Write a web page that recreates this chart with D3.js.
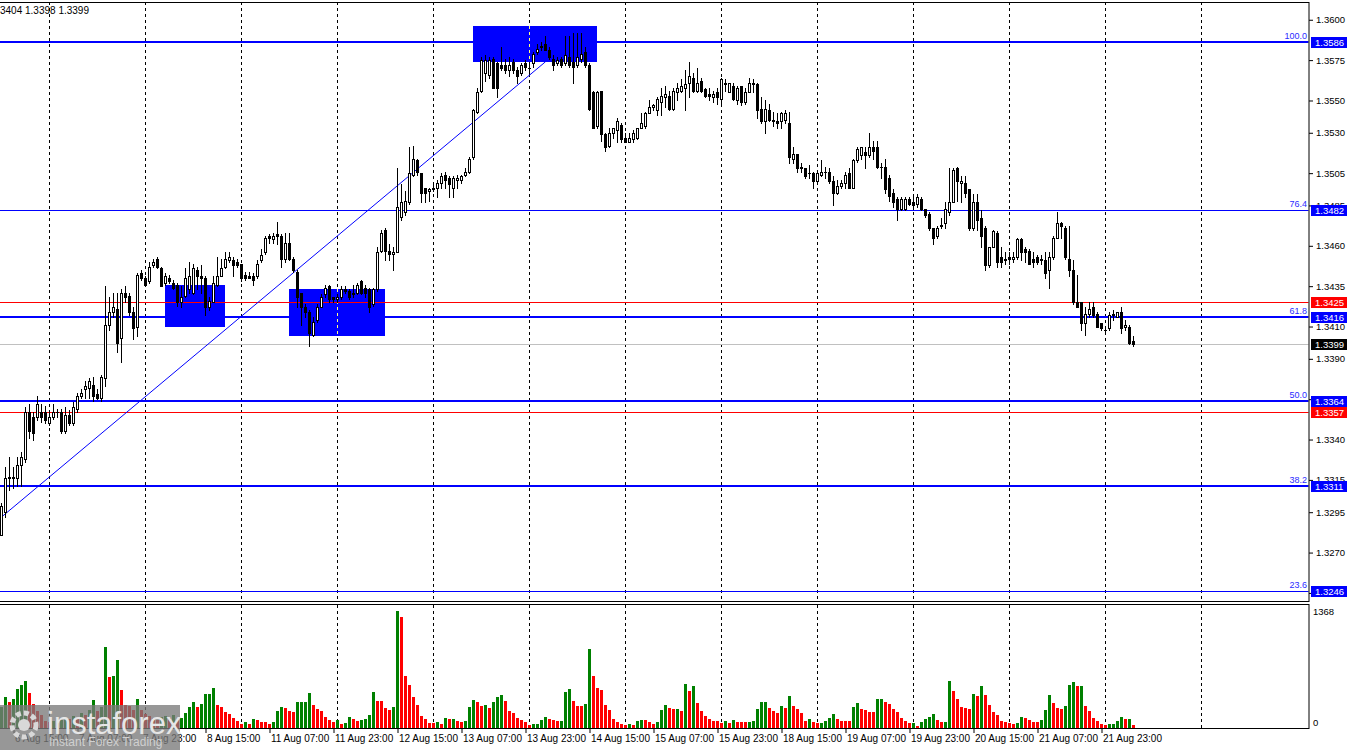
<!DOCTYPE html>
<html><head><meta charset="utf-8">
<script src="https://cdn.jsdelivr.net/npm/d3@7"></script>
<style>
html,body{margin:0;padding:0;background:#fff;overflow:hidden}
svg{display:block;font-family:"Liberation Sans",Arial,sans-serif}
</style></head><body>
<script>
// ---------------- DATA ----------------
const days = ["6 Aug","7 Aug","8 Aug","11 Aug","12 Aug","13 Aug","14 Aug","15 Aug","18 Aug","19 Aug","20 Aug","21 Aug","22 Aug","25 Aug"];
const firstHour = 12;
const xTickLabels = ["6 Aug 15:00","7 Aug 07:00","7 Aug 23:00","8 Aug 15:00","11 Aug 07:00","11 Aug 23:00","12 Aug 15:00","13 Aug 07:00","13 Aug 23:00","14 Aug 15:00","15 Aug 07:00","15 Aug 23:00","18 Aug 15:00","19 Aug 07:00","19 Aug 23:00","20 Aug 15:00","21 Aug 07:00","21 Aug 23:00"];
const priceTicks = [1.3600,1.3575,1.3550,1.3530,1.3505,1.3485,1.3460,1.3435,1.3410,1.3390,1.3365,1.3340,1.3315,1.3295,1.3270,1.3245];
const headerText = "3404 1.3398 1.3399";

const open = [
1.3281,1.3295,1.3316,1.3317,1.3316,1.3324,1.3328,1.3357,1.3354,1.3354,
1.3357,1.3357,1.3350,1.3354,1.3357,1.3357,1.3345,1.3355,1.3350,1.3359,
1.3367,1.3371,1.3372,1.3374,1.3368,1.3366,1.3378,1.3411,1.3419,1.3421,
1.3403,1.3431,1.3429,1.3419,1.3410,1.3443,1.3440,1.3438,1.3448,1.3452,
1.3446,1.3437,1.3440,1.3437,1.3436,1.3425,1.3429,1.3433,1.3431,1.3445,
1.3441,1.3440,1.3422,1.3425,1.3436,1.3441,1.3447,1.3451,1.3451,1.3450,
1.3449,1.3442,1.3441,1.3441,1.3441,1.3451,1.3456,1.3466,1.3464,1.3467,
1.3466,1.3452,1.3462,1.3452,1.3444,1.3431,1.3422,1.3419,1.3405,1.3414,
1.3422,1.3430,1.3435,1.3428,1.3427,1.3428,1.3433,1.3432,1.3430,1.3431,
1.3438,1.3434,1.3433,1.3424,1.3433,1.3457,1.3470,1.3457,1.3455,1.3456,
1.3478,1.3481,1.3487,1.3504,1.3513,1.3505,1.3496,1.3494,1.3495,1.3496,
1.3499,1.3504,1.3502,1.3496,1.3501,1.3501,1.3504,1.3506,1.3515,1.3543,
1.3556,1.3567,1.3566,1.3576,1.3573,1.3572,1.3572,1.3569,1.3574,1.3569,
1.3567,1.3573,1.3570,1.3573,1.3580,1.3584,1.3585,1.3581,1.3576,1.3573,
1.3576,1.3573,1.3577,1.3574,1.3572,1.3576,1.3580,1.3572,1.3555,1.3534,
1.3556,1.3529,1.3522,1.3530,1.3532,1.3535,1.3527,1.3524,1.3526,1.3527,
1.3533,1.3534,1.3542,1.3546,1.3544,1.3549,1.3552,1.3553,1.3545,1.3555,
1.3556,1.3558,1.3561,1.3564,1.3556,1.3562,1.3557,1.3554,1.3552,1.3555,
1.3551,1.3561,1.3555,1.3559,1.3550,1.3559,1.3549,1.3555,1.3561,1.3560,
1.3545,1.3537,1.3544,1.3538,1.3537,1.3537,1.3538,1.3536,1.3514,1.3517,
1.3509,1.3508,1.3505,1.3505,1.3500,1.3504,1.3506,1.3506,1.3500,1.3493,
1.3497,1.3499,1.3505,1.3496,1.3513,1.3516,1.3518,1.3516,1.3521,1.3521,
1.3509,1.3509,1.3502,1.3493,1.3489,1.3483,1.3483,1.3489,1.3487,1.3486,
1.3489,1.3483,1.3480,1.3471,1.3466,1.3472,1.3474,1.3481,1.3487,1.3508,
1.3499,1.3499,1.3495,1.3471,1.3487,1.3477,1.3471,1.3448,1.3459,1.3468,
1.3453,1.3452,1.3453,1.3452,1.3453,1.3464,1.3458,1.3457,1.3452,1.3453,
1.3452,1.3451,1.3445,1.3453,1.3465,1.3474,1.3471,1.3452,1.3445,1.3425,
1.3425,1.3412,1.3418,1.3422,1.3418,1.3412,1.3408,1.3409,1.3417,1.3416,
1.3419,1.3410,1.3410,1.3401];
const high = [
1.3301,1.3323,1.3329,1.3323,1.3329,1.3332,1.3360,1.3362,1.3357,1.3367,
1.3362,1.3361,1.3357,1.3362,1.3359,1.3359,1.3360,1.3358,1.3363,1.3369,
1.3371,1.3376,1.3378,1.3379,1.3371,1.3380,1.3435,1.3428,1.3431,1.3431,
1.3433,1.3435,1.3431,1.3422,1.3443,1.3445,1.3441,1.3450,1.3452,1.3453,
1.3447,1.3443,1.3442,1.3439,1.3437,1.3435,1.3446,1.3450,1.3449,1.3447,
1.3448,1.3441,1.3428,1.3441,1.3453,1.3452,1.3456,1.3456,1.3453,1.3452,
1.3449,1.3444,1.3444,1.3443,1.3451,1.3458,1.3466,1.3467,1.3468,1.3475,
1.3467,1.3468,1.3468,1.3453,1.3445,1.3431,1.3424,1.3420,1.3416,1.3424,
1.3430,1.3436,1.3436,1.3428,1.3430,1.3435,1.3435,1.3433,1.3436,1.3437,
1.3439,1.3436,1.3434,1.3434,1.3459,1.3470,1.3471,1.3461,1.3459,1.3508,
1.3498,1.3494,1.3521,1.3522,1.3514,1.3505,1.3496,1.3496,1.3498,1.3501,
1.3505,1.3506,1.3503,1.3503,1.3504,1.3504,1.3508,1.3515,1.3545,1.3558,
1.3577,1.3578,1.3577,1.3577,1.3574,1.3583,1.3576,1.3577,1.3576,1.3571,
1.3573,1.3575,1.3573,1.3580,1.3585,1.3586,1.3590,1.3583,1.3578,1.3577,
1.3577,1.3590,1.3590,1.3592,1.3592,1.3592,1.3583,1.3573,1.3556,1.3556,
1.3556,1.3530,1.3533,1.3533,1.3539,1.3536,1.3530,1.3530,1.3532,1.3533,
1.3542,1.3543,1.3550,1.3548,1.3552,1.3558,1.3559,1.3556,1.3558,1.3561,
1.3563,1.3569,1.3574,1.3567,1.3570,1.3564,1.3558,1.3558,1.3556,1.3558,
1.3564,1.3563,1.3561,1.3561,1.3559,1.3559,1.3558,1.3564,1.3563,1.3561,
1.3552,1.3550,1.3548,1.3543,1.3542,1.3543,1.3544,1.3543,1.3521,1.3517,
1.3511,1.3508,1.3510,1.3506,1.3507,1.3513,1.3509,1.3508,1.3503,1.3501,
1.3501,1.3506,1.3508,1.3514,1.3521,1.3521,1.3521,1.3530,1.3525,1.3525,
1.3511,1.3514,1.3504,1.3495,1.3490,1.3490,1.3490,1.3490,1.3491,1.3492,
1.3490,1.3483,1.3481,1.3471,1.3472,1.3477,1.3487,1.3508,1.3508,1.3509,
1.3503,1.3503,1.3495,1.3492,1.3492,1.3482,1.3472,1.3459,1.3470,1.3469,
1.3459,1.3456,1.3456,1.3456,1.3465,1.3465,1.3459,1.3458,1.3456,1.3454,
1.3454,1.3456,1.3456,1.3466,1.3481,1.3475,1.3472,1.3472,1.3451,1.3442,
1.3425,1.3422,1.3425,1.3425,1.3419,1.3412,1.3410,1.3419,1.3420,1.3419,
1.3422,1.3414,1.3411,1.3404];
const low = [
1.3281,1.3292,1.3309,1.3310,1.3311,1.3311,1.3326,1.3341,1.3340,1.3352,
1.3351,1.3350,1.3349,1.3353,1.3354,1.3344,1.3344,1.3349,1.3349,1.3357,
1.3366,1.3366,1.3366,1.3364,1.3365,1.3364,1.3373,1.3408,1.3416,1.3394,
1.3388,1.3425,1.3417,1.3402,1.3404,1.3439,1.3435,1.3437,1.3447,1.3446,
1.3435,1.3436,1.3437,1.3433,1.3423,1.3422,1.3428,1.3431,1.3430,1.3433,
1.3431,1.3417,1.3420,1.3425,1.3435,1.3441,1.3446,1.3450,1.3441,1.3447,
1.3438,1.3439,1.3440,1.3436,1.3440,1.3450,1.3455,1.3462,1.3462,1.3461,
1.3447,1.3450,1.3451,1.3444,1.3422,1.3411,1.3416,1.3398,1.3404,1.3413,
1.3422,1.3428,1.3425,1.3425,1.3425,1.3427,1.3431,1.3427,1.3428,1.3430,
1.3430,1.3428,1.3419,1.3423,1.3432,1.3456,1.3451,1.3451,1.3445,1.3456,
1.3476,1.3479,1.3486,1.3503,1.3504,1.3487,1.3487,1.3488,1.3494,1.3490,
1.3496,1.3496,1.3490,1.3490,1.3496,1.3499,1.3503,1.3505,1.3514,1.3542,
1.3555,1.3562,1.3564,1.3558,1.3552,1.3569,1.3567,1.3565,1.3567,1.3561,
1.3566,1.3569,1.3567,1.3571,1.3579,1.3581,1.3581,1.3576,1.3569,1.3572,
1.3571,1.3572,1.3571,1.3561,1.3571,1.3574,1.3571,1.3544,1.3533,1.3533,
1.3525,1.3519,1.3521,1.3527,1.3524,1.3524,1.3524,1.3524,1.3524,1.3526,
1.3533,1.3533,1.3542,1.3544,1.3541,1.3541,1.3546,1.3544,1.3544,1.3550,
1.3555,1.3544,1.3552,1.3555,1.3555,1.3555,1.3552,1.3550,1.3549,1.3548,
1.3547,1.3556,1.3555,1.3550,1.3548,1.3547,1.3548,1.3555,1.3555,1.3539,
1.3536,1.3530,1.3537,1.3534,1.3533,1.3533,1.3536,1.3511,1.3511,1.3506,
1.3506,1.3502,1.3502,1.3496,1.3499,1.3503,1.3502,1.3499,1.3485,1.3492,
1.3496,1.3496,1.3496,1.3496,1.3512,1.3514,1.3508,1.3515,1.3514,1.3508,
1.3502,1.3493,1.3488,1.3484,1.3476,1.3482,1.3482,1.3485,1.3483,1.3484,
1.3482,1.3478,1.3470,1.3461,1.3465,1.3471,1.3471,1.3479,1.3487,1.3488,
1.3487,1.3490,1.3470,1.3470,1.3470,1.3459,1.3445,1.3447,1.3459,1.3447,
1.3447,1.3449,1.3449,1.3450,1.3452,1.3451,1.3450,1.3449,1.3447,1.3449,
1.3449,1.3440,1.3434,1.3452,1.3465,1.3465,1.3452,1.3441,1.3424,1.3422,
1.3408,1.3405,1.3416,1.3416,1.3410,1.3408,1.3406,1.3408,1.3414,1.3416,
1.3406,1.3408,1.3399,1.3398];
const close = [
1.3299,1.3316,1.3317,1.3316,1.3324,1.3329,1.3357,1.3345,1.3344,1.3362,
1.3354,1.3352,1.3354,1.3357,1.3357,1.3345,1.3355,1.3350,1.3360,1.3367,
1.3369,1.3373,1.3376,1.3367,1.3366,1.3379,1.3411,1.3419,1.3422,1.3400,
1.3431,1.3428,1.3419,1.3409,1.3442,1.3440,1.3436,1.3447,1.3450,1.3447,
1.3435,1.3441,1.3438,1.3434,1.3425,1.3428,1.3440,1.3441,1.3446,1.3441,
1.3440,1.3422,1.3426,1.3437,1.3441,1.3446,1.3452,1.3453,1.3448,1.3448,
1.3440,1.3440,1.3440,1.3439,1.3449,1.3454,1.3465,1.3465,1.3466,1.3466,
1.3452,1.3462,1.3452,1.3445,1.3428,1.3422,1.3419,1.3406,1.3413,1.3422,
1.3428,1.3434,1.3427,1.3427,1.3428,1.3433,1.3432,1.3428,1.3431,1.3436,
1.3431,1.3431,1.3422,1.3433,1.3456,1.3468,1.3457,1.3455,1.3456,1.3484,
1.3487,1.3488,1.3505,1.3514,1.3506,1.3493,1.3493,1.3495,1.3496,1.3499,
1.3503,1.3501,1.3498,1.3502,1.3502,1.3503,1.3506,1.3514,1.3544,1.3555,
1.3575,1.3575,1.3575,1.3558,1.3558,1.3570,1.3569,1.3572,1.3569,1.3565,
1.3572,1.3571,1.3570,1.3579,1.3582,1.3583,1.3581,1.3577,1.3572,1.3575,
1.3572,1.3578,1.3572,1.3571,1.3577,1.3579,1.3572,1.3545,1.3533,1.3555,
1.3529,1.3521,1.3530,1.3533,1.3537,1.3526,1.3524,1.3527,1.3530,1.3533,
1.3536,1.3542,1.3546,1.3547,1.3551,1.3553,1.3554,1.3545,1.3556,1.3558,
1.3559,1.3560,1.3565,1.3556,1.3561,1.3556,1.3553,1.3553,1.3554,1.3552,
1.3563,1.3560,1.3561,1.3551,1.3558,1.3549,1.3555,1.3561,1.3560,1.3544,
1.3537,1.3545,1.3538,1.3537,1.3536,1.3542,1.3542,1.3515,1.3517,1.3508,
1.3508,1.3503,1.3505,1.3500,1.3505,1.3506,1.3506,1.3500,1.3493,1.3497,
1.3499,1.3504,1.3496,1.3513,1.3520,1.3521,1.3516,1.3521,1.3519,1.3509,
1.3509,1.3495,1.3491,1.3487,1.3483,1.3489,1.3489,1.3486,1.3485,1.3490,
1.3483,1.3479,1.3471,1.3465,1.3471,1.3473,1.3483,1.3487,1.3507,1.3500,
1.3500,1.3493,1.3471,1.3487,1.3476,1.3466,1.3448,1.3459,1.3469,1.3450,
1.3450,1.3451,1.3452,1.3453,1.3464,1.3456,1.3456,1.3449,1.3450,1.3450,
1.3451,1.3443,1.3453,1.3465,1.3474,1.3472,1.3453,1.3445,1.3425,1.3422,
1.3412,1.3418,1.3421,1.3417,1.3410,1.3409,1.3408,1.3417,1.3418,1.3419,
1.3409,1.3411,1.3400,1.3399];
const volume = [
246,366,308,339,456,503,550,413,281,199,
152,82,70,82,58,94,117,105,140,129,
175,152,211,328,199,246,948,597,608,796,
445,269,257,211,339,211,164,140,117,94,
129,140,117,152,94,113,175,246,308,249,
281,398,401,468,269,249,184,160,113,82,
43,67,47,102,94,67,65,47,67,199,
242,230,199,184,304,306,309,406,269,222,
199,132,94,74,94,47,62,125,109,82,
94,105,152,418,316,313,230,211,242,1368,
1302,608,503,363,269,140,102,55,53,70,
47,120,105,108,82,70,82,246,328,304,
257,269,234,304,363,386,316,199,175,117,
94,70,35,47,50,94,129,105,94,82,
85,421,456,316,257,254,281,924,608,468,
445,269,211,105,70,47,35,47,35,82,
94,91,70,47,70,211,269,234,219,226,
199,515,433,491,292,199,140,105,82,80,
58,82,58,94,70,69,68,76,82,222,
304,307,234,199,175,257,234,374,257,222,
175,82,105,70,58,61,82,117,164,105,
82,81,80,246,292,222,211,187,186,339,
340,304,281,222,187,117,82,58,60,23,
70,105,129,164,94,70,71,550,433,339,
246,234,222,398,374,491,386,269,187,152,
82,70,58,47,58,129,117,94,70,69,
94,211,386,292,234,222,257,503,538,491,
495,257,199,117,82,47,35,47,49,82,
129,105,109,35];
const volumeMax = 1368;

const fibValues = [1.3586,1.3482,1.3416,1.3364,1.3311,1.3246];
const fibLabels = ["100.0","76.4","61.8","50.0","38.2","23.6"];
const redLevels = [1.3425,1.3357];
const lastPrice = 1.3399;
// boxes: [start bar, end bar, top price, bottom price]
const boxes = [[41,56,1.3436,1.3410],[72,96,1.3433,1.3404],[118,149,1.3596,1.3574]];
const trendline = [[0,1.3292],[136,1.3574]];

// ---------------- BUILD ----------------
const times = [];
days.forEach((d,di)=>{ for(let h=(di===0?firstHour:0); h<24; h++) times.push(d+" "+String(h).padStart(2,"0")+":00"); });

const W=1350,H=750, plotR=1308.5, mainTop=2, mainBot=601;
const x = d3.scaleLinear().domain([0,300]).range([0,1200]);
const y = d3.scaleLinear().domain([1.3240,1.3611]).range([mainBot,mainTop]);
const v = d3.scaleLinear().domain([0,volumeMax]).range([728,611]);
const R = Math.round;

const svg = d3.select("body").append("svg").attr("width",W).attr("height",H);
svg.append("rect").attr("width",W).attr("height",H).attr("fill","#fff");

// grid (day boundaries)
const gridIdx = times.map((t,i)=>t.endsWith(" 00:00")?i:-1).filter(i=>i>=0 && x(i)+1.5<plotR);
const grid = svg.append("g");
gridIdx.forEach(i=>{
  grid.append("line").attr("x1",x(i)+1.5).attr("x2",x(i)+1.5).attr("y1",mainTop).attr("y2",mainBot)
    .attr("stroke","#000").attr("stroke-dasharray","3,3");
  grid.append("line").attr("x1",x(i)+1.5).attr("x2",x(i)+1.5).attr("y1",605).attr("y2",728)
    .attr("stroke","#000").attr("stroke-dasharray","3,3");
});

// boxes
const bx = svg.append("g");
boxes.forEach(b=>{
  const x0=x(b[0])+1, x1=x(b[1])+1, y0=R(y(b[2])), y1=R(y(b[3]));
  bx.append("rect").attr("x",x0).attr("y",y0).attr("width",x1-x0).attr("height",y1-y0).attr("fill","#0000ff");
  gridIdx.forEach(i=>{ const gx=x(i)+1.5; if(gx>x0&&gx<x1)
    bx.append("line").attr("x1",gx).attr("x2",gx).attr("y1",y0).attr("y2",y1).attr("stroke","#ffff80").attr("stroke-dasharray","3,3"); });
});

// horizontal levels
const lv = svg.append("g");
const thick = new Set(["100.0","61.8","50.0","38.2"]);
lv.append("line").attr("x1",0).attr("x2",plotR).attr("y1",R(y(lastPrice))+0.5).attr("y2",R(y(lastPrice))+0.5).attr("stroke","#c0c0c0");
redLevels.forEach(p=>lv.append("line").attr("x1",0).attr("x2",plotR).attr("y1",R(y(p))+0.5).attr("y2",R(y(p))+0.5).attr("stroke","#ff0000"));
fibValues.forEach((p,k)=>{
  const t = thick.has(fibLabels[k]);
  const yy = t? R(y(p)) : R(y(p))+0.5;
  lv.append("line").attr("x1",0).attr("x2",plotR).attr("y1",yy).attr("y2",yy).attr("stroke","#0000ff").attr("stroke-width",t?2:1);
  lv.append("text").attr("x",1307).attr("y",R(y(p))-3).attr("text-anchor","end").attr("font-size",9)
    .attr("fill","#2b2bff").text(fibLabels[k]);
});

// trendline
svg.append("line").attr("x1",x(trendline[0][0])+1.5).attr("y1",y(trendline[0][1]))
  .attr("x2",x(trendline[1][0])+1.5).attr("y2",y(trendline[1][1])).attr("stroke","#0000ff").attr("stroke-width",1);

// candles
const cg = svg.append("g");
open.forEach((o,i)=>{
  const c=close[i], xl=x(i);
  const yh=R(y(high[i])), yl=R(y(low[i]));
  cg.append("rect").attr("x",xl+1).attr("y",yh).attr("width",1).attr("height",yl-yh+1).attr("fill","#000");
  const top=R(y(Math.max(o,c))), bot=R(y(Math.min(o,c)));
  const hh=Math.max(1,bot-top+1);
  cg.append("rect").attr("x",xl).attr("y",top).attr("width",3).attr("height",hh).attr("fill","#000");
  if(c>=o && hh>2) cg.append("rect").attr("x",xl+1).attr("y",top+1).attr("width",1).attr("height",hh-2).attr("fill","#fff");
});

// panel borders
const bd = svg.append("g").attr("stroke","#000").attr("stroke-width",1);
bd.append("line").attr("x1",0).attr("x2",1309).attr("y1",2.5).attr("y2",2.5);
bd.append("line").attr("x1",0).attr("x2",1309).attr("y1",601.5).attr("y2",601.5);
bd.append("line").attr("x1",0).attr("x2",1309).attr("y1",604.5).attr("y2",604.5);
bd.append("line").attr("x1",0).attr("x2",1309).attr("y1",728.5).attr("y2",728.5);
bd.append("line").attr("x1",plotR+0.5).attr("x2",plotR+0.5).attr("y1",2).attr("y2",602);
bd.append("line").attr("x1",plotR+0.5).attr("x2",plotR+0.5).attr("y1",604).attr("y2",729);

// price axis
const pa = svg.append("g").attr("transform","translate(1309,0)")
  .call(d3.axisRight(y).tickValues(priceTicks).tickSize(4).tickPadding(3).tickFormat(d3.format(".4f")));
pa.select(".domain").remove();
pa.selectAll("text").attr("font-size",9.5).attr("font-family","Liberation Sans,Arial,sans-serif").attr("fill","#000");
pa.selectAll("line").attr("stroke","#000");

// value tags on axis
function tag(p,bg){
  const yy=R(y(p));
  svg.append("rect").attr("x",1311).attr("y",yy-5).attr("width",36).attr("height",11).attr("fill",bg);
  svg.append("text").attr("x",1315).attr("y",yy+4).attr("font-size",9.5).attr("fill","#fff").text(d3.format(".4f")(p));
}
fibValues.forEach(p=>tag(p,"#0000ff"));
redLevels.forEach(p=>tag(p,"#ff0000"));
tag(lastPrice,"#000000");

// volumes
const vg = svg.append("g");
volume.forEach((val,i)=>{
  const up = i===0 ? true : val>volume[i-1];
  const yt=R(v(val));
  vg.append("rect").attr("x",x(i)).attr("y",yt).attr("width",3).attr("height",728-yt).attr("fill",up?"#008000":"#ff0000");
});
const va = svg.append("g").attr("transform","translate(1309,0)")
  .call(d3.axisRight(v).tickValues([0,volumeMax]).tickSize(0).tickPadding(4).tickFormat(d3.format("d")));
va.select(".domain").remove();
va.selectAll("text").attr("font-size",9.5).attr("fill","#000");
va.selectAll(".tick").filter(d=>d===0).select("text").attr("y",-6);

// time axis
const xIdx = xTickLabels.map(l=>times.indexOf(l));
const xa = svg.append("g").attr("transform","translate(1.5,729)")
  .call(d3.axisBottom(x).tickValues(xIdx).tickSize(4).tickPadding(2).tickFormat(i=>times[i]));
xa.select(".domain").remove();
xa.selectAll("text").attr("text-anchor","start").attr("dx",1).attr("font-size",10).attr("fill","#000");
xa.selectAll("line").attr("stroke","#000");

// header
svg.append("text").attr("x",0).attr("y",14).attr("font-size",10).attr("fill","#000").text(headerText);

// logo
const lg = svg.append("g");
lg.append("rect").attr("x",0).attr("y",705).attr("width",180).attr("height",45).attr("fill","#7a7a7a").attr("opacity",0.78);
const gear = lg.append("g").attr("transform","translate(24,725)");
gear.append("circle").attr("r",12).attr("fill","none").attr("stroke","#d8d8d8").attr("stroke-width",5).attr("stroke-dasharray","5,3");
gear.append("circle").attr("r",6).attr("fill","#d8d8d8");
lg.append("text").attr("x",47).attr("y",734).attr("font-size",31).attr("fill","#e6e6e6").attr("font-family","Liberation Sans,Arial,sans-serif").text("instaforex");
lg.append("text").attr("x",49).attr("y",746).attr("font-size",12).attr("fill","#d0d0d0").text("Instant Forex Trading");
</script>
</body></html>
